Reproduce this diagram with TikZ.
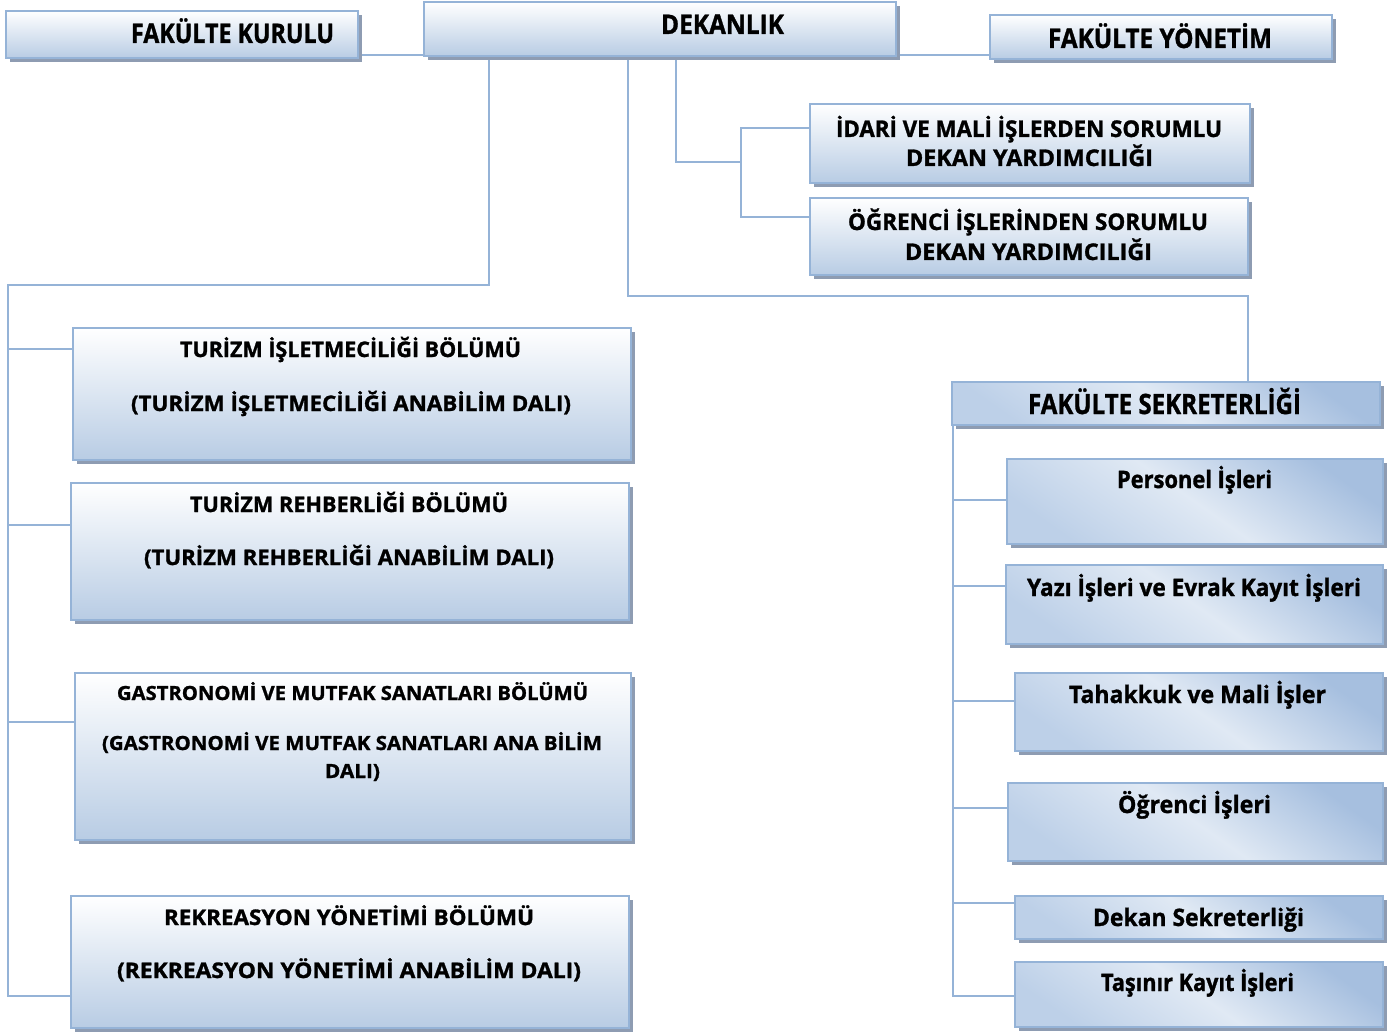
\documentclass[tikz,border=0pt]{standalone}
\usepackage{fontspec}
\setmainfont{Open Sans}[BoldFeatures={FakeBold=1.2}]
\usetikzlibrary{shadows,backgrounds}
\definecolor{lnc}{HTML}{95B3D7}
\definecolor{shc}{HTML}{8E9CB2}
\definecolor{gtop}{HTML}{FFFFFF}
\definecolor{gbot}{HTML}{B8CCE4}
\definecolor{dk}{HTML}{A6BFDF}
\definecolor{lt}{HTML}{E0E9F4}
\definecolor{md}{HTML}{BDD0E8}
\tikzset{
  conn/.style={draw=lnc, line width=2pt},
  obox/.style={draw=lnc, line width=2pt, rectangle, inner sep=0pt, anchor=north west,
    top color=gtop, bottom color=gbot,
    drop shadow={shadow xshift=4pt, shadow yshift=-4pt, fill=shc, opacity=1}},
  dbox/.style={obox, top color=dk, bottom color=md, middle color=lt, shading angle=-35},
  txt/.style={inner sep=0pt, anchor=base, font=\bfseries}
}
\newcommand\obx[6]{\node[#2, minimum width=#5pt, minimum height=#6pt] (#1) at (#3,#4) {};}
\newcommand\tlab[6]{\node[txt] (#1) at (#2,#3) {\resizebox{#5pt}{\height}{\fontsize{#4}{#4}\selectfont #6}};}
\begin{document}
\begin{tikzpicture}[x=1pt,y=-1pt]
\begin{scope}[on background layer]
\fill[white] (0,0) rectangle (1397,1032);
\end{scope}
\useasboundingbox (0,0) rectangle (1397,1032);

% boxes
\obx{kurulu}{obox}{5}{10}{352}{47}
\obx{dek}{obox}{423}{1}{472}{54}
\obx{yon}{obox}{989}{14}{342}{44}
\obx{idari}{obox}{809}{103}{440}{79}
\obx{ogr}{obox}{809}{197}{438}{77}
\obx{tis}{obox}{72}{327}{558}{132}
\obx{treh}{obox}{70}{482}{558}{137}
\obx{gas}{obox}{74}{672}{556}{167}
\obx{rek}{obox}{70}{895}{558}{132}
\obx{sek}{dbox}{951}{381}{428}{43}
\obx{per}{dbox}{1006}{458}{376}{85}
\obx{yazi}{dbox}{1005}{564}{377}{79}
\obx{tah}{dbox}{1014}{672}{368}{78}
\obx{ogi}{dbox}{1007}{782}{375}{78}
\obx{dsek}{dbox}{1014}{895}{368}{43}
\obx{tas}{dbox}{1014}{961}{368}{65}

% connector joints
\coordinate (jl) at (8,285);
\coordinate (jd) at (741,162);
\coordinate (js) at (1248,296);

% connectors (behind the boxes)
\begin{scope}[on background layer]
\draw[conn] (kurulu.east |- 0,55) -- (dek.west |- 0,55);
\draw[conn] (dek.east |- 0,55) -- (yon.west |- 0,55);
\draw[conn] (dek.south -| 489,0) |- (jl) |- (rek.west |- 0,996);
\draw[conn] (jl |- 0,349) -- (tis.west |- 0,349);
\draw[conn] (jl |- 0,525) -- (treh.west |- 0,525);
\draw[conn] (jl |- 0,722) -- (gas.west |- 0,722);
\draw[conn] (dek.south -| 676,0) |- (jd);
\draw[conn] (idari.west |- 0,128) -| (jd) |- (ogr.west |- 0,217);
\draw[conn] (dek.south -| 628,0) |- (js) -- (sek.north -| js);
\draw[conn] (sek.south -| 953,0) |- (tas.west |- 0,996);
\draw[conn] (per.west |- 0,500) -- (953,500);
\draw[conn] (yazi.west |- 0,586) -- (953,586);
\draw[conn] (tah.west |- 0,701) -- (953,701);
\draw[conn] (ogi.west |- 0,808) -- (953,808);
\draw[conn] (dsek.west |- 0,903) -- (953,903);
\end{scope}

% texts
\tlab{t-kurulu}{232.5}{43}{27}{203}{FAKÜLTE KURULU}
\tlab{t-dek}{722.5}{34}{27}{123}{DEKANLIK}
\tlab{t-yon}{1160}{48}{27}{224}{FAKÜLTE YÖNETİM}
\tlab{t-idari1}{1029}{137}{23}{386}{İDARİ VE MALİ İŞLERDEN SORUMLU}
\tlab{t-idari2}{1029.5}{166}{23}{247}{DEKAN YARDIMCILIĞI}
\tlab{t-ogr1}{1028}{230}{23}{360}{ÖĞRENCİ İŞLERİNDEN SORUMLU}
\tlab{t-ogr2}{1028.5}{260}{23}{247}{DEKAN YARDIMCILIĞI}
\tlab{t-tis1}{350.5}{357}{21.5}{341}{TURİZM İŞLETMECİLİĞİ BÖLÜMÜ}
\tlab{t-tis2}{351}{411}{21.5}{440}{(TURİZM İŞLETMECİLİĞİ ANABİLİM DALI)}
\tlab{t-treh1}{349}{512}{21.5}{318}{TURİZM REHBERLİĞİ BÖLÜMÜ}
\tlab{t-treh2}{349}{565}{21.5}{410}{(TURİZM REHBERLİĞİ ANABİLİM DALI)}
\tlab{t-gas1}{352.5}{700}{19.5}{471}{GASTRONOMİ VE MUTFAK SANATLARI BÖLÜMÜ}
\tlab{t-gas2}{352}{750}{19.5}{500}{(GASTRONOMİ VE MUTFAK SANATLARI ANA BİLİM}
\tlab{t-gas3}{352.5}{778}{19.5}{55}{DALI)}
\tlab{t-rek1}{349}{925}{21.5}{370}{REKREASYON YÖNETİMİ BÖLÜMÜ}
\tlab{t-rek2}{349}{978}{21.5}{464}{(REKREASYON YÖNETİMİ ANABİLİM DALI)}
\tlab{t-sek}{1164.5}{414}{28}{273}{FAKÜLTE SEKRETERLİĞİ}
\tlab{t-per}{1194.5}{488}{24}{155}{Personel İşleri}
\tlab{t-yazi}{1194}{596}{24}{334}{Yazı İşleri ve Evrak Kayıt İşleri}
\tlab{t-tah}{1197.5}{703}{24}{257}{Tahakkuk ve Mali İşler}
\tlab{t-ogi}{1194.5}{813}{24}{153}{Öğrenci İşleri}
\tlab{t-dsek}{1198.5}{926}{24}{211}{Dekan Sekreterliği}
\tlab{t-tas}{1197.5}{991}{24}{193}{Taşınır Kayıt İşleri}
\end{tikzpicture}
\end{document}
